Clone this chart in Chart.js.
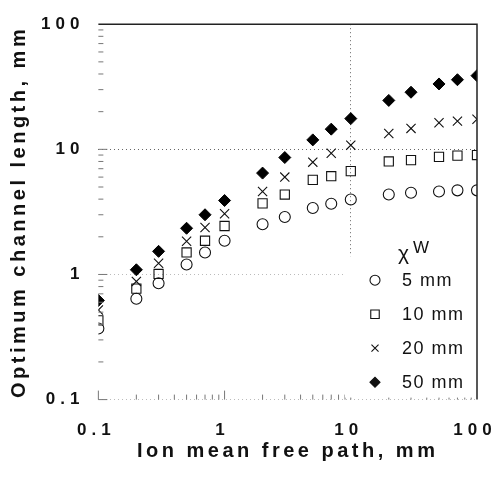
<!DOCTYPE html>
<html>
<head>
<meta charset="utf-8">
<script src="https://cdn.jsdelivr.net/npm/chart.js@4/dist/chart.umd.min.js"></script>
<style>
  html, body { margin: 0; padding: 0; background: #fff; }
  #wrap { width: 497px; height: 479px; }
</style>
</head>
<body>
<div id="wrap"><canvas id="chart"></canvas></div>
<script>
// ion mean free path, mm
const pathValues = [0.1, 0.2, 0.3, 0.5, 0.7, 1, 2, 3, 5, 7, 10, 20, 30, 50, 70, 100];
// optimum channel length, mm, per xW
const len5mm = [0.37, 0.64, 0.85, 1.2, 1.5, 1.86, 2.52, 2.88, 3.4, 3.67, 3.97, 4.35, 4.5, 4.6, 4.7, 4.7];
const len10mm = [0.43, 0.77, 1.01, 1.5, 1.86, 2.44, 3.7, 4.35, 5.7, 6.1, 6.7, 8.0, 8.2, 8.7, 8.9, 9.0];
const len20mm = [0.52, 0.88, 1.23, 1.84, 2.37, 3.06, 4.6, 6.0, 7.9, 9.3, 10.8, 13.4, 14.7, 16.3, 16.8, 17.4];
const len50mm = [0.62, 1.09, 1.53, 2.34, 3.0, 3.9, 6.46, 8.6, 11.9, 14.5, 17.6, 24.6, 28.6, 33.3, 36, 38.8];
const seriesLabels = ['5 mm', '10 mm', '20 mm', '50 mm'];
const xTicks = [0.1, 1, 10, 100];
const yTicks = [0.1, 1, 10, 100];

const fontFamily = '"Liberation Sans", Arial, Helvetica, sans-serif';
const tickSpacing = '5px';
const titleSpacing = '3.5px';

function toPoints(ys) {
    return pathValues.map((x, i) => ({ x: x, y: ys[i] }));
}

// letter spacing gets reset whenever the canvas is resized,
// titles get a tighter spacing than tick labels
const spacingPlugin = {
    id: 'spacing',
    beforeLayout(chart) { chart.ctx.letterSpacing = tickSpacing; },
    afterLayout(chart) {
        Object.values(chart.scales).forEach(s => {
            if (s._wrappedTitle) return;
            const orig = s.drawTitle;
            s.drawTitle = function () {
                const prev = this.ctx.letterSpacing;
                this.ctx.letterSpacing = titleSpacing;
                orig.apply(this, arguments);
                this.ctx.letterSpacing = prev;
            };
            s._wrappedTitle = true;
        });
    },
    beforeDraw(chart) { chart.ctx.letterSpacing = tickSpacing; }
};

// top/right frame plus small inward ticks on left and bottom
const framePlugin = {
    id: 'frame',
    afterDraw(chart) {
        const ctx = chart.ctx;
        const a = chart.chartArea;
        const xs = chart.scales.x;
        const ys = chart.scales.y;
        ctx.save();
        ctx.strokeStyle = '#222';
        ctx.lineWidth = 1.5;
        ctx.beginPath();
        ctx.moveTo(a.left, a.top);
        ctx.lineTo(a.right, a.top);
        ctx.lineTo(a.right, a.bottom);
        ctx.stroke();

        ctx.strokeStyle = '#777';
        ctx.lineWidth = 1;
        ctx.beginPath();
        for (let d = 0.1; d < 100; d *= 10) {
            for (let m = 1; m < 10; m++) {
                const v = d * m;
                const len = m === 1 ? 9 : 5;
                const py = ys.getPixelForValue(v);
                ctx.moveTo(a.left, py);
                ctx.lineTo(a.left + len, py);
                const px = xs.getPixelForValue(v);
                ctx.moveTo(px, a.bottom);
                ctx.lineTo(px, a.bottom - len);
            }
        }
        ctx.stroke();
        ctx.restore();
    }
};

// legend drawn inside the plot, lower right
const legendPlugin = {
    id: 'innerLegend',
    afterDraw(chart) {
        const ctx = chart.ctx;
        const a = chart.chartArea;
        const bx = a.right - 132;
        const top = a.top + 215;
        ctx.save();
        ctx.fillStyle = '#fff';
        ctx.fillRect(bx, a.top + 232, 130, a.bottom - a.top - 234);

        ctx.fillStyle = '#111';
        ctx.letterSpacing = '0px';
        ctx.textBaseline = 'middle';
        ctx.textAlign = 'left';
        ctx.font = '21px ' + fontFamily;
        ctx.fillText('\u03c7', bx + 53, top + 15);
        ctx.font = '17px ' + fontFamily;
        ctx.fillText('W', bx + 68, top + 9);

        ctx.letterSpacing = '1.5px';
        ctx.font = '18px ' + fontFamily;
        chart.data.datasets.forEach((ds, i) => {
            const yy = top + 41 + i * 34;
            ctx.strokeStyle = '#111';
            ctx.fillStyle = ds.pointStyle === 'rectRot' ? '#111' : '#fff';
            ctx.lineWidth = 1.1;
            Chart.helpers.drawPoint(ctx, {
                pointStyle: ds.pointStyle,
                radius: ds.pointStyle === 'rect' ? 6 : 5,
                rotation: 0,
                borderWidth: 1.1
            }, bx + 30, yy);
            ctx.fillStyle = '#111';
            ctx.fillText(seriesLabels[i], bx + 57, yy + 1);
        });
        ctx.restore();
    }
};

const tickFont = { family: fontFamily, size: 17, weight: 'bold' };
const titleFont = { family: fontFamily, size: 20, weight: 'bold' };

new Chart(document.getElementById('chart'), {
    type: 'scatter',
    data: {
        datasets: [
            { label: seriesLabels[0], data: toPoints(len5mm), pointStyle: 'circle', pointRadius: 5.5,
              borderColor: '#111', backgroundColor: 'rgba(0,0,0,0)', borderWidth: 1.1 },
            { label: seriesLabels[1], data: toPoints(len10mm), pointStyle: 'rect', pointRadius: 6.5,
              borderColor: '#111', backgroundColor: 'rgba(0,0,0,0)', borderWidth: 1.1 },
            { label: seriesLabels[2], data: toPoints(len20mm), pointStyle: 'crossRot', pointRadius: 6.5,
              borderColor: '#111', backgroundColor: '#111', borderWidth: 1.1 },
            { label: seriesLabels[3], data: toPoints(len50mm), pointStyle: 'rectRot', pointRadius: 6,
              borderColor: '#000', backgroundColor: '#000', borderWidth: 1 }
        ]
    },
    options: {
        responsive: true,
        maintainAspectRatio: false,
        animation: false,
        events: [],
        layout: { padding: { left: 7, right: 0, top: 7, bottom: 12 } },
        plugins: {
            legend: { display: false },
            tooltip: { enabled: false }
        },
        scales: {
            x: {
                type: 'logarithmic',
                min: 0.1,
                max: 100,
                afterBuildTicks: s => { s.ticks = xTicks.map(v => ({ value: v })); },
                afterFit: s => { s.paddingRight = 20; s.paddingLeft = 0; },
                ticks: {
                    callback: v => String(v),
                    font: tickFont,
                    color: '#111',
                    padding: 21,
                    labelOffset: -2,
                    autoSkip: false,
                    maxRotation: 0
                },
                grid: {
                    drawTicks: false,
                    color: c => (c.tick && c.tick.value === 10) ? '#666' : 'rgba(0,0,0,0)',
                    lineWidth: 1
                },
                border: { display: false, dash: [1, 3] },
                title: { display: true, text: 'Ion mean free path, mm', font: titleFont, color: '#111',
                         padding: { top: -23, bottom: 4 } }
            },
            y: {
                type: 'logarithmic',
                min: 0.1,
                max: 100,
                afterBuildTicks: s => { s.ticks = yTicks.map(v => ({ value: v })); },
                ticks: {
                    callback: v => String(v),
                    font: tickFont,
                    color: '#111',
                    padding: 14,
                    autoSkip: false
                },
                grid: {
                    drawTicks: false,
                    color: c => {
                        if (!c.tick) return 'rgba(0,0,0,0)';
                        if (c.tick.value === 10) return '#666';
                        if (c.tick.value === 1) return '#bbb';
                        if (c.tick.value === 0.1) return '#bbb';
                        return 'rgba(0,0,0,0)';
                    },
                    lineWidth: 1
                },
                border: { display: false, dash: [1, 3] },
                title: { display: true, text: 'Optimum channel length, mm', font: titleFont, color: '#111',
                         padding: { top: 0, bottom: -4 } }
            }
        }
    },
    plugins: [spacingPlugin, framePlugin, legendPlugin]
});
</script>
</body>
</html>
